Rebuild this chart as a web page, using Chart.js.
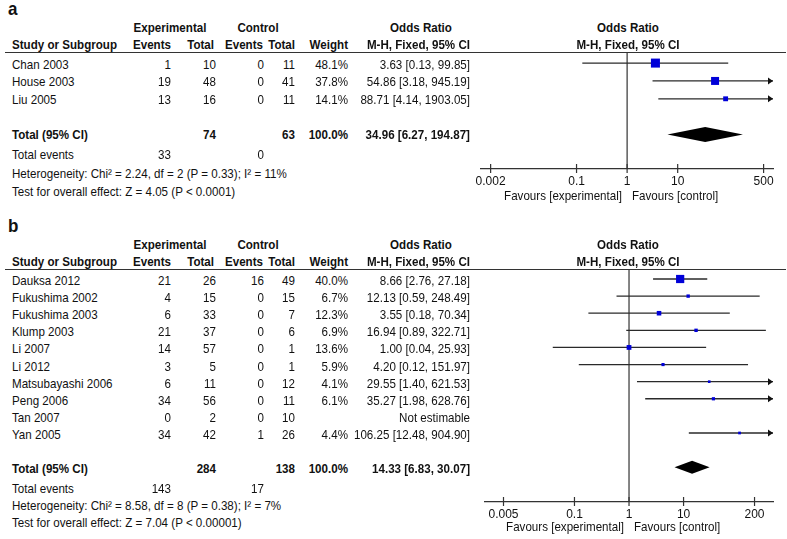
<!DOCTYPE html>
<html>
<head>
<meta charset="utf-8">
<script src="https://cdn.jsdelivr.net/npm/chart.js@4.4.0/dist/chart.umd.min.js"></script>
<style>
  html, body { margin: 0; padding: 0; background: #fff; }
  #page { position: relative; width: 787px; height: 539px; overflow: hidden;
          font-family: "Liberation Sans", Arial, sans-serif; font-size: 11.6px; color: #111; }
  .t { position: absolute; white-space: nowrap; line-height: 12px; transform: translateY(-50%) scaleY(1.08); }
  .b { font-weight: bold; }
  .panel { font-size: 17px; font-weight: bold; line-height: 17px; }
  .rule { position: absolute; left: 5px; width: 781px; height: 0; border-top: 1.5px solid #333; }
  .plot { position: absolute; left: 440px; width: 347px; }
</style>
</head>
<body>
<div id="page">
  <div class="plot" style="top:40px;height:159px"><canvas id="forestA" width="347" height="159"></canvas></div>
  <div class="plot" style="top:258px;height:274px"><canvas id="forestB" width="347" height="274"></canvas></div>
</div>
<script>
// ---- panel a ----
const studiesA   = ['Chan 2003', 'House 2003', 'Liu 2005'];
const expEventsA = [1, 19, 13];
const expTotalA  = [10, 48, 16];
const ctlEventsA = [0, 0, 0];
const ctlTotalA  = [11, 41, 11];
const weightA    = [48.1, 37.8, 14.1];
const orA        = [3.63, 54.86, 88.71];
const loA        = [0.13, 3.18, 4.14];
const hiA        = [99.85, 945.19, 1903.05];
const pooledA    = [34.96, 6.27, 194.87];   // estimate, lower, upper
const sumsA      = [74, 63, 33, 0];           // exp total, ctl total, exp events, ctl events
const statsA     = ['Heterogeneity: Chi\u00b2 = 2.24, df = 2 (P = 0.33); I\u00b2 = 11%',
                    'Test for overall effect: Z = 4.05 (P < 0.0001)'];
const ticksA     = [0.002, 0.1, 1, 10, 500];

// ---- panel b ----
const studiesB   = ['Dauksa 2012', 'Fukushima 2002', 'Fukushima 2003', 'Klump 2003', 'Li 2007',
                    'Li 2012', 'Matsubayashi 2006', 'Peng 2006', 'Tan 2007', 'Yan 2005'];
const expEventsB = [21, 4, 6, 21, 14, 3, 6, 34, 0, 34];
const expTotalB  = [26, 15, 33, 37, 57, 5, 11, 56, 2, 42];
const ctlEventsB = [16, 0, 0, 0, 0, 0, 0, 0, 0, 1];
const ctlTotalB  = [49, 15, 7, 6, 1, 1, 12, 11, 10, 26];
const weightB    = [40.0, 6.7, 12.3, 6.9, 13.6, 5.9, 4.1, 6.1, null, 4.4];
const orB        = [8.66, 12.13, 3.55, 16.94, 1.00, 4.20, 29.55, 35.27, null, 106.25];
const loB        = [2.76, 0.59, 0.18, 0.89, 0.04, 0.12, 1.40, 1.98, null, 12.48];
const hiB        = [27.18, 248.49, 70.34, 322.71, 25.93, 151.97, 621.53, 628.76, null, 904.90];
const pooledB    = [14.33, 6.83, 30.07];
const sumsB      = [284, 138, 143, 17];
const statsB     = ['Heterogeneity: Chi\u00b2 = 8.58, df = 8 (P = 0.38); I\u00b2 = 7%',
                    'Test for overall effect: Z = 7.04 (P < 0.00001)'];
const ticksB     = [0.005, 0.1, 1, 10, 200];

const page = document.getElementById('page');
const COL = { name: 12, ee: 171, et: 216, ce: 264, ct: 295, w: 348, or: 470 };

function put(str, x, y, align, cls) {
  const d = document.createElement('div');
  d.className = 't' + (cls ? ' ' + cls : '');
  d.textContent = str;
  if (align === 'right') d.style.right = (787 - x) + 'px';
  else if (align === 'center') { d.style.left = x + 'px'; d.style.transform = 'translate(-50%,-50%) scaleY(1.08)'; }
  else d.style.left = x + 'px';
  d.style.top = y + 'px';
  page.appendChild(d);
}

function orText(o, l, h) {
  if (o == null) return 'Not estimable';
  return o.toFixed(2) + ' [' + l.toFixed(2) + ', ' + h.toFixed(2) + ']';
}

function table(p) {
  put(p.label, 8, p.labelY, 'left', 'panel');
  put('Experimental', 170, p.h1, 'center', 'b');
  put('Control', 258, p.h1, 'center', 'b');
  put('Odds Ratio', 421, p.h1, 'center', 'b');
  put('Odds Ratio', 628, p.h1, 'center', 'b');
  put('Study or Subgroup', COL.name, p.h2, 'left', 'b');
  put('Events', COL.ee, p.h2, 'right', 'b');
  put('Total', 214, p.h2, 'right', 'b');
  put('Events', 263, p.h2, 'right', 'b');
  put('Total', COL.ct, p.h2, 'right', 'b');
  put('Weight', COL.w, p.h2, 'right', 'b');
  put('M-H, Fixed, 95% CI', COL.or, p.h2, 'right', 'b');
  put('M-H, Fixed, 95% CI', 628, p.h2, 'center', 'b');

  const r = document.createElement('div');
  r.className = 'rule';
  r.style.top = (p.rule - 0.75) + 'px';
  page.appendChild(r);

  p.names.forEach((n, i) => {
    const y = p.y0 + p.step * i + p.textDy;
    put(n, COL.name, y, 'left');
    put(String(p.ee[i]), COL.ee, y, 'right');
    put(String(p.et[i]), COL.et, y, 'right');
    put(String(p.ce[i]), COL.ce, y, 'right');
    put(String(p.ct[i]), COL.ct, y, 'right');
    if (p.w[i] != null) put(p.w[i].toFixed(1) + '%', COL.w, y, 'right');
    put(orText(p.or[i], p.lo[i], p.hi[i]), COL.or, y, 'right');
  });

  const ty = p.y0 + p.step * p.totalRow + p.textDy;
  put('Total (95% CI)', COL.name, ty, 'left', 'b');
  put(String(p.sums[0]), COL.et, ty, 'right', 'b');
  put(String(p.sums[1]), COL.ct, ty, 'right', 'b');
  put('100.0%', COL.w, ty, 'right', 'b');
  put(orText(p.pooled[0], p.pooled[1], p.pooled[2]), COL.or, ty, 'right', 'b');

  put('Total events', COL.name, p.evY, 'left');
  put(String(p.sums[2]), COL.ee, p.evY, 'right');
  put(String(p.sums[3]), COL.ce, p.evY, 'right');
  put(p.stats[0], COL.name, p.hetY, 'left');
  put(p.stats[1], COL.name, p.testY, 'left');

  put('Favours [experimental]', p.favX - 5, p.favY, 'right');
  put('Favours [control]', p.favX + 5, p.favY, 'left');
}

// marks that are not plain points: null line, crossing ticks, arrows, pooled diamond
const forestMarks = {
  id: 'forestMarks',
  beforeDatasetsDraw(chart) {
    const { ctx, chartArea, scales: { x } } = chart;
    const px = x.getPixelForValue(1);
    ctx.save();
    ctx.strokeStyle = '#333';
    ctx.lineWidth = 1.2;
    ctx.beginPath();
    ctx.moveTo(px, chartArea.top);
    ctx.lineTo(px, chartArea.bottom);
    ctx.stroke();
    ctx.restore();
  },
  afterDatasetsDraw(chart, args, opts) {
    const { ctx, scales: { x, y } } = chart;
    ctx.save();
    ctx.fillStyle = '#111';
    opts.hi.forEach((h, i) => {
      if (h == null || h <= x.max) return;
      const tip = x.getPixelForValue(x.max);
      const py = y.getPixelForValue(i);
      ctx.beginPath();
      ctx.moveTo(tip, py);
      ctx.lineTo(tip - 5, py - 3.5);
      ctx.lineTo(tip - 5, py + 3.5);
      ctx.closePath();
      ctx.fill();
    });
    const py = y.getPixelForValue(opts.totalRow);
    ctx.fillStyle = '#000';
    ctx.beginPath();
    ctx.moveTo(x.getPixelForValue(opts.pooled[1]), py);
    ctx.lineTo(x.getPixelForValue(opts.pooled[0]), py - opts.half);
    ctx.lineTo(x.getPixelForValue(opts.pooled[2]), py);
    ctx.lineTo(x.getPixelForValue(opts.pooled[0]), py + opts.half);
    ctx.closePath();
    ctx.fill();
    ctx.restore();
  },
  afterDraw(chart, args, opts) {
    const { ctx, chartArea, scales: { x } } = chart;
    ctx.save();
    ctx.strokeStyle = '#333';
    ctx.lineWidth = 1.2;
    ctx.beginPath();
    opts.ticks.forEach(v => {
      const px = x.getPixelForValue(v);
      ctx.moveTo(px, chartArea.bottom - 5);
      ctx.lineTo(px, chartArea.bottom + 4);
    });
    ctx.stroke();
    ctx.restore();
  }
};

function forest(id, p) {
  const datasets = [{
    data: p.or.map((v, i) => (v == null ? null : { x: v, y: i })).filter(Boolean),
    pointStyle: 'rect',
    pointRadius: p.or.map((v, i) => v == null ? 0 : 1.3 * Math.sqrt(p.w[i]) * Math.SQRT1_2)
                    .filter((r, i) => p.or[i] != null),
    backgroundColor: '#0000d8',
    borderWidth: 0,
    order: 0
  }];
  p.or.forEach((v, i) => {
    if (v == null) return;
    datasets.push({
      data: [{ x: p.lo[i], y: i }, { x: p.hi[i], y: i }],
      showLine: true,
      borderColor: '#2a2a2a',
      borderWidth: 1.3,
      pointRadius: 0,
      order: 1
    });
  });

  return new Chart(document.getElementById(id), {
    type: 'scatter',
    data: { datasets },
    plugins: [forestMarks],
    options: {
      responsive: false,
      animation: false,
      layout: { padding: { top: p.padTop, left: p.padLeft, right: p.padRight, bottom: 0 } },
      plugins: {
        legend: { display: false },
        tooltip: { enabled: false },
        forestMarks: { hi: p.hi, ticks: p.ticks, pooled: p.pooled, totalRow: p.totalRow, half: p.half }
      },
      scales: {
        x: {
          type: 'logarithmic',
          min: p.xMin,
          max: p.xMax,
          afterBuildTicks: s => { s.ticks = p.ticks.map(v => ({ value: v })); },
          afterFit: s => { s.height = 30; },
          grid: { display: false, drawTicks: false },
          border: { display: true, color: '#333', width: 1.2 },
          ticks: {
            autoSkip: false,
            maxRotation: 0,
            padding: 5,
            color: '#111',
            font: { family: '"Liberation Sans", Arial, sans-serif', size: 12 },
            callback: v => String(v)
          }
        },
        y: { type: 'linear', display: false, reverse: true, min: p.yMin, max: p.yMax }
      }
    }
  });
}

const panelA = {
  label: 'a', labelY: 9, h1: 28, h2: 45, rule: 53, y0: 63, step: 17.7, textDy: 1.5,
  names: studiesA, ee: expEventsA, et: expTotalA, ce: ctlEventsA, ct: ctlTotalA, w: weightA,
  or: orA, lo: loA, hi: hiA, pooled: pooledA, sums: sumsA, stats: statsA, ticks: ticksA,
  totalRow: 4, evY: 155, hetY: 174, testY: 192, favX: 627, favY: 196,
  xMin: 0.00129, xMax: 767, yMin: -0.565, yMax: 5.932, padTop: 13, padLeft: 41, padRight: 14, half: 7.5
};
const panelB = {
  label: 'b', labelY: 226, h1: 245, h2: 262, rule: 270, y0: 279, step: 17.11, textDy: 2,
  names: studiesB, ee: expEventsB, et: expTotalB, ce: ctlEventsB, ct: ctlTotalB, w: weightB,
  or: orB, lo: loB, hi: hiB, pooled: pooledB, sums: sumsB, stats: statsB, ticks: ticksB,
  totalRow: 11, evY: 489, hetY: 506, testY: 523, favX: 629, favY: 527,
  xMin: 0.00229, xMax: 436, yMin: -0.526, yMax: 13.033, padTop: 12, padLeft: 45, padRight: 14, half: 6.5
};

table(panelA);
table(panelB);
forest('forestA', panelA);
forest('forestB', panelB);
</script>
</body>
</html>
